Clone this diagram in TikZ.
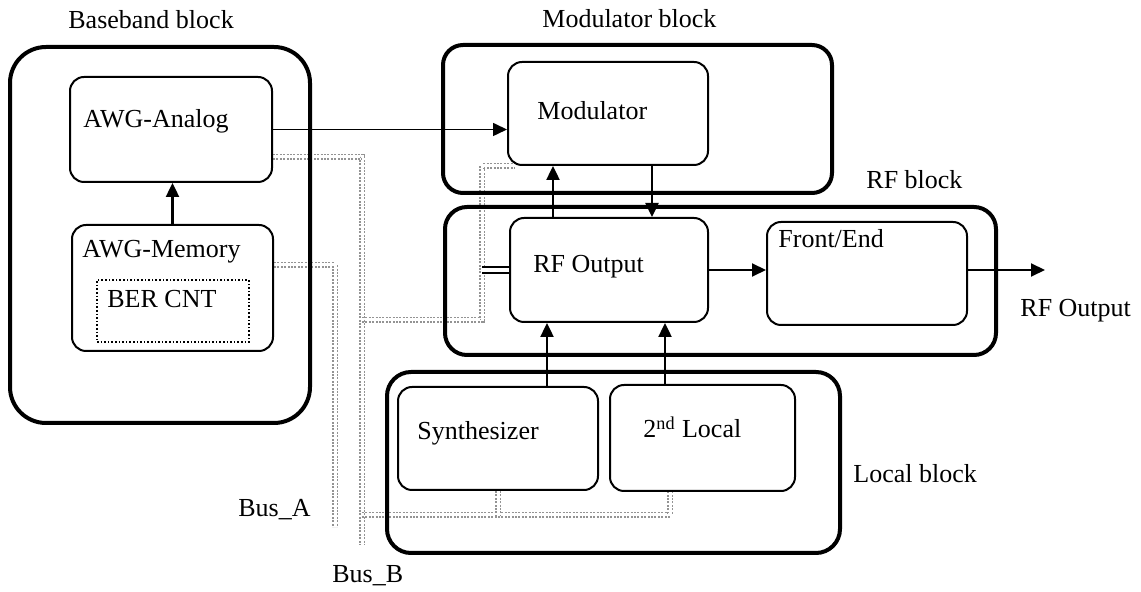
\documentclass[tikz,border=0pt]{standalone}
\usepackage{fontspec}
\setmainfont{Liberation Serif}
\usetikzlibrary{arrows.meta,backgrounds}

\begin{document}
\begin{tikzpicture}[
    x=0.5pt, y=-0.5pt,
    font=\fontsize{13}{15}\selectfont,
    block/.style={draw, line width=2pt, rounded corners=10pt, inner sep=0pt},
    unit/.style={draw, line width=1pt, rounded corners=7pt, inner sep=0pt},
    txt/.style={anchor=base west, inner sep=0pt},
    arrow/.style={-{Triangle[length=7pt,width=6.5pt]}, line width=1.2pt},
    bus/.style={draw=gray!85, line width=0.9pt, double=white, double distance=1.5pt, dash pattern=on 1pt off 0.7pt}
]
\useasboundingbox (0,0) rectangle (1141,592);

% Baseband block
\node[block, rounded corners=18pt, minimum width=150pt, minimum height=188pt] (base) at (160,235) {};
\node[unit, minimum width=101pt, minimum height=52.5pt] (analog) at (171,129.5) {};
\node[unit, minimum width=100.5pt, minimum height=63pt] (memory) at (172.5,288) {};
\node[draw, densely dotted, line width=0.8pt, inner sep=0pt, minimum width=76pt, minimum height=31pt] (bercnt) at (173,311) {};

% Modulator block
\node[block, minimum width=194.5pt, minimum height=74pt] (modblock) at (637.5,119) {};
\node[unit, minimum width=100pt, minimum height=51.5pt] (mod) at (608,113.5) {};

% RF block
\node[block, rounded corners=11pt, minimum width=275.5pt, minimum height=74pt] (rfblock) at (720.5,281) {};
\node[unit, minimum width=99pt, minimum height=52pt] (rfout) at (609,270) {};
\node[unit, minimum width=100pt, minimum height=51.5pt] (frontend) at (867,273.5) {};

% Local block
\node[block, rounded corners=12pt, minimum width=226.5pt, minimum height=90.5pt] (localblock) at (613.5,462.5) {};
\node[unit, minimum width=100pt, minimum height=51.5pt] (synth) at (498,438.5) {};
\node[unit, minimum width=92.5pt, minimum height=53pt] (second) at (702.5,438) {};

% Texts
\node[txt] (basetxt) at (68,29) {Baseband block};
\node[txt] (modblocktxt) at (542,28) {Modulator block};
\node[txt] (rfblocktxt) at (866,189) {RF block};
\node[txt] (localblocktxt) at (853,483) {Local block};
\node[txt] (analogtxt) at (83,128) {AWG-Analog};
\node[txt] (memorytxt) at (82,258) {AWG-Memory};
\node[txt] (bercnttxt) at (107,308) {BER CNT};
\node[txt] (modtxt) at (537,120) {Modulator};
\node[txt] (rfouttxt) at (533,273) {RF Output};
\node[txt] (frontendtxt) at (778,248) {Front/End};
\node[txt] (synthtxt) at (417,440) {Synthesizer};
\node[txt] (secondtxt) at (643,438) {2\textsuperscript{nd} Local};
\node[txt] (outtxt) at (1020,317) {RF Output};
\node[txt] (busAtxt) at (238,517) {Bus\_A};
\node[txt] (busBtxt) at (332,583) {Bus\_B};

% Bus points
\coordinate (busBtop) at (362,157);
\coordinate (busBend) at (362,545);
\coordinate (busAtop) at (335,265);
\coordinate (busAend) at (335,527);
\coordinate (busRF) at (482,320);
\coordinate (busLoc) at (670,515);
\coordinate (rfoutend) at (1045,270);

% Buses
\begin{scope}[on background layer]
\draw[bus] (analog.east |- busBtop) -- (busBtop) -- (busBend);
\draw[bus] (memory.east |- busAtop) -- (busAtop) -- (busAend);
\draw[bus] (busBtop |- busRF) -- (busRF) -- (busRF |- mod.south) -- ([xshift=4pt]mod.south west);
\draw[bus] (busBtop |- busLoc) -- (busLoc) -- (busLoc |- second.south);
\draw[bus] (synth.south) -- (synth.south |- busLoc);
\end{scope}
\draw[line width=0.9pt, double=white, double distance=1.8pt] (busRF |- rfout.west) -- (rfout.west);

% Arrows
\draw[arrow] (memory.north) -- (memory.north |- analog.south);
\draw[arrow, line width=0.8pt] (analog.east) -- (analog.east -| mod.west);
\draw[arrow] ([xshift=-28pt]rfout.north) -- ([xshift=-28pt]rfout.north |- mod.south);
\draw[arrow] ([xshift=22pt]mod.south) -- ([xshift=22pt]mod.south |- rfout.north);
\draw[arrow] ([xshift=24.5pt]synth.north) -- ([xshift=24.5pt]synth.north |- rfout.south);
\draw[arrow] ([xshift=-18.75pt]second.north) -- ([xshift=-18.75pt]second.north |- rfout.south);
\draw[arrow, line width=1pt] (rfout.east) -- (rfout.east -| frontend.west);
\draw[arrow, line width=1pt] (frontend.east |- rfoutend) -- (rfoutend);

\end{tikzpicture}
\end{document}
